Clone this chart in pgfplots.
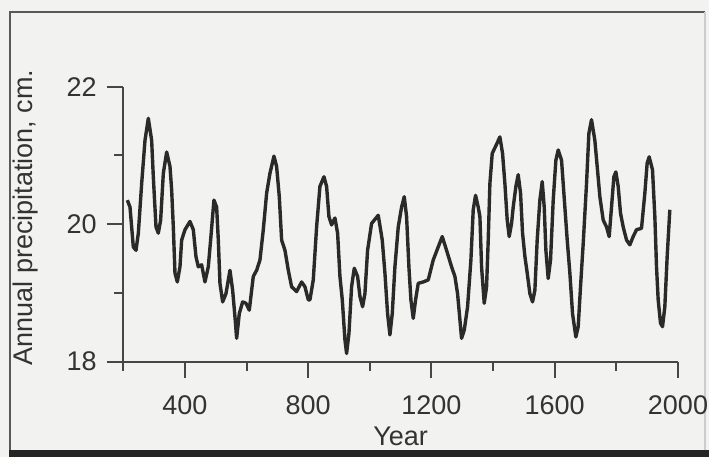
\documentclass[border=0pt]{standalone}
\usepackage{pgfplots}
\pgfplotsset{compat=1.18}
\usepackage{fontspec}
\setmainfont{Liberation Sans}
\definecolor{bg}{RGB}{242,243,241}
\definecolor{ink}{RGB}{42,42,42}
\definecolor{axisgray}{RGB}{70,70,70}

\begin{document}
\begin{tikzpicture}
% page = 709x457 px, 1 px = 0.5pt, origin at the axis corner
\useasboundingbox (-61.65pt,-47.65pt) rectangle (292.85pt,180.85pt);
\fill[bg] (-61.65pt,-47.65pt) rectangle (292.85pt,180.85pt);
\draw[gray!70!black, line width=1pt] (-56.65pt,-44pt) -- (-56.65pt,174.85pt) -- (290.85pt,174.85pt);
\draw[gray!40, line width=0.8pt] (290.85pt,174.85pt) -- (290.85pt,-44pt);
\fill[black!85] (-57.15pt,-47.65pt) rectangle (292.85pt,-43.9pt);
\begin{axis}[
    scale only axis,
    width=277.35pt, height=137.5pt,
    xmin=200, xmax=2000,
    ymin=18, ymax=22,
    axis x line*=bottom, axis y line*=left,
    axis line style={axisgray, line width=1pt},
    tick style={axisgray, line width=1pt},
    xtick={400,800,1200,1600,2000},
    minor xtick={200,600,1000,1400,1800},
    ytick={18,20,22},
    minor ytick={19,21},
    tick align=outside,
    major tick length=8.25pt, minor tick length=4.5pt,
    tick label style={
        font=\fontsize{13.5}{16}\selectfont, text=black!80,
        /pgf/number format/assume math mode=true,
        /pgf/number format/1000 sep={}
    },
    xticklabel style={yshift=-5pt},
    yticklabel style={xshift=-1.5pt},
    xlabel={Year},
    ylabel={Annual precipitation, cm.},
    label style={font=\fontsize{13.5}{16}\selectfont, text=black!80},
    xlabel style={at={(axis description cs:0.5,-0.303)}, anchor=base},
    ylabel style={at={(axis description cs:-0.1754,0.524)}, anchor=center},
]
\addplot[ink, line width=1.7pt, line join=round] table {
x y
213.1 20.35
221.7 20.25
232.5 19.67
241.2 19.62
248.8 19.87
259.6 20.59
270.4 21.22
281.2 21.54
292.0 21.22
297.4 20.69
306.1 19.96
313.6 19.87
321.2 20.06
329.9 20.74
340.7 21.05
351.5 20.84
356.9 20.50
362.3 19.96
367.7 19.29
375.3 19.16
383.9 19.38
389.4 19.77
400.2 19.92
416.4 20.04
427.2 19.92
435.8 19.53
443.4 19.38
454.2 19.41
465.0 19.16
475.8 19.38
483.4 19.77
494.2 20.35
502.9 20.25
508.3 19.77
513.7 19.14
522.4 18.87
533.2 18.99
546.1 19.33
554.8 19.04
562.4 18.65
567.8 18.34
576.4 18.70
587.3 18.87
598.1 18.85
608.9 18.75
621.8 19.24
632.7 19.33
643.5 19.48
654.3 19.92
665.1 20.45
675.9 20.74
688.9 20.99
697.5 20.84
706.2 20.40
713.8 19.77
724.6 19.62
735.4 19.33
746.2 19.09
762.4 19.02
778.6 19.16
789.5 19.09
800.3 18.90
805.7 18.90
816.5 19.19
827.3 19.96
838.1 20.55
851.1 20.69
859.7 20.55
867.3 20.11
876.0 19.99
886.8 20.09
895.4 19.87
903.0 19.24
910.6 18.90
919.2 18.32
924.6 18.12
932.2 18.41
940.8 19.09
949.5 19.36
960.3 19.24
967.9 18.95
976.5 18.80
984.1 18.99
992.7 19.62
1005.7 20.01
1027.3 20.13
1040.3 19.77
1049.0 19.29
1057.6 18.70
1065.2 18.39
1072.8 18.70
1081.4 19.38
1092.2 19.96
1103.1 20.25
1111.7 20.40
1119.3 20.11
1126.8 19.38
1133.3 18.90
1140.9 18.63
1148.5 18.90
1157.1 19.14
1173.3 19.16
1189.5 19.19
1205.8 19.48
1222.0 19.67
1235.0 19.82
1249.0 19.62
1265.3 19.38
1276.1 19.24
1284.7 18.99
1292.3 18.61
1297.7 18.34
1306.4 18.46
1317.2 18.80
1328.0 19.48
1335.5 20.21
1343.1 20.42
1351.7 20.25
1357.2 20.11
1362.6 19.38
1371.2 18.85
1378.8 19.09
1384.2 19.77
1389.6 20.59
1397.2 21.03
1410.0 21.15
1422.0 21.27
1430.7 21.03
1438.3 20.59
1445.8 20.06
1452.3 19.82
1459.9 20.01
1465.3 20.25
1474.0 20.55
1481.5 20.72
1489.1 20.45
1495.6 19.87
1503.2 19.53
1510.7 19.29
1519.4 18.99
1528.0 18.87
1535.6 19.04
1543.1 19.77
1551.8 20.35
1559.4 20.62
1565.9 20.25
1571.3 19.62
1578.8 19.21
1586.4 19.48
1595.1 20.35
1603.7 20.93
1611.3 21.08
1622.1 20.93
1629.7 20.45
1640.5 19.77
1649.1 19.29
1657.8 18.70
1668.6 18.36
1676.2 18.51
1683.7 19.09
1692.4 19.72
1703.2 20.59
1710.8 21.32
1719.4 21.52
1730.2 21.22
1737.8 20.84
1746.5 20.40
1757.3 20.06
1768.1 19.96
1776.7 19.82
1784.3 20.25
1791.9 20.69
1798.4 20.76
1805.9 20.55
1813.5 20.16
1822.2 19.96
1833.0 19.77
1843.8 19.70
1854.6 19.82
1865.4 19.92
1881.6 19.94
1892.4 20.45
1900.0 20.89
1906.5 20.98
1917.3 20.79
1924.9 20.11
1930.3 19.38
1935.7 18.90
1943.3 18.56
1949.8 18.51
1957.3 18.80
1964.9 19.53
1973.5 20.21
};
\end{axis}
\end{tikzpicture}
\end{document}
